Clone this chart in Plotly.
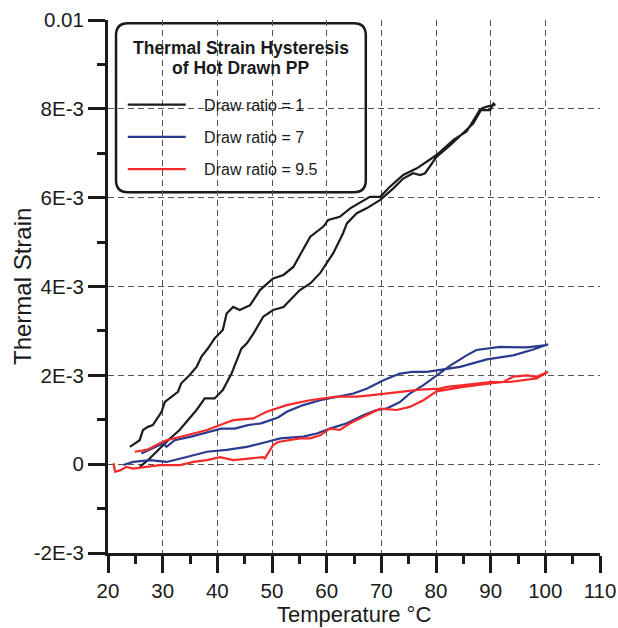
import plotly.graph_objects as go

# Draw ratio = 1 (black loop): rising branch then returning branch
dr1_T = [24.0, 25.8, 26.4, 27.3, 28.2, 29.8, 30.4, 31.6, 32.8, 33.4, 34.3, 34.9, 36.2, 37.1, 38.3, 39.5, 41.0,
         41.7, 42.9, 44.1, 46.0, 47.8, 50.2, 52.1, 53.9, 55.1, 57.0, 59.4, 60.3, 62.4, 64.3, 67.9, 69.8,
         71.6, 74.0, 76.5, 78.3, 80.1, 83.2, 85.6, 88.0, 89.9, 90.5, 90.8,
         89.3, 88.4, 86.8, 85.0, 82.6, 80.1, 78.0, 77.1, 75.8, 74.0, 72.2, 69.8, 67.3, 65.5, 63.7, 63.0,
         61.2, 58.8, 57.0, 55.1, 52.1, 50.2, 48.4, 46.6, 45.4, 44.4, 43.5, 42.6, 41.0, 39.5, 37.7, 36.2,
         34.6, 33.1, 31.0, 29.1, 27.3, 25.8]
dr1_S = [0.39, 0.54, 0.77, 0.84, 0.88, 1.18, 1.40, 1.52, 1.63, 1.82, 1.93, 2.00, 2.19, 2.42, 2.61, 2.83, 3.02,
         3.39, 3.54, 3.47, 3.58, 3.92, 4.18, 4.26, 4.44, 4.71, 5.12, 5.35, 5.50, 5.57, 5.76, 6.02, 6.02,
         6.25, 6.51, 6.66, 6.81, 6.96, 7.30, 7.49, 7.97, 7.97, 8.12, 8.09,
         8.05, 8.01, 7.67, 7.45, 7.18, 6.92, 6.55, 6.51, 6.55, 6.43, 6.21, 5.95, 5.76, 5.65, 5.42, 5.20,
         4.75, 4.30, 4.07, 3.92, 3.54, 3.47, 3.32, 2.94, 2.72, 2.60, 2.34, 2.04, 1.67, 1.48, 1.48, 1.22,
         0.99, 0.77, 0.54, 0.32, 0.09, -0.06]

# Draw ratio = 7 (blue loop)
dr7_T = [26.1, 27.9, 30.1, 30.7, 32.2, 35.2, 38.3, 40.7, 43.2, 45.6, 48.0, 51.1, 52.7, 55.7, 58.8, 61.8,
         64.9, 67.3, 70.4, 73.4, 75.8, 78.3, 80.7, 82.6, 84.4, 89.3, 94.1, 97.8, 100.5,
         100.2, 96.6, 91.7, 87.4, 85.6, 82.6, 80.1, 77.7, 75.2, 73.4, 70.9, 69.1, 66.7, 63.7, 60.6, 58.2,
         55.7, 51.5, 49.0, 45.4, 41.7, 38.1, 34.4, 30.7, 27.7, 24.6, 22.8]
dr7_S = [0.24, 0.35, 0.47, 0.39, 0.54, 0.62, 0.73, 0.80, 0.80, 0.88, 0.92, 1.05, 1.18, 1.33, 1.44, 1.52,
         1.59, 1.70, 1.89, 2.04, 2.08, 2.08, 2.12, 2.16, 2.19, 2.36, 2.45, 2.58, 2.70,
         2.68, 2.63, 2.64, 2.57, 2.45, 2.22, 2.00, 1.78, 1.59, 1.40, 1.25, 1.22, 1.10, 0.92, 0.80, 0.69,
         0.62, 0.58, 0.50, 0.39, 0.32, 0.28, 0.16, 0.05, 0.09, 0.05, -0.02]

# Draw ratio = 9.5 (red loop)
dr95_T = [24.9, 27.1, 29.5, 30.7, 34.4, 38.1, 40.5, 42.9, 46.6, 49.0, 52.7, 56.9, 61.8, 65.5, 67.9,
          70.9, 74.0, 77.1, 80.7, 82.0, 85.0, 89.9, 93.5, 96.0, 98.4, 100.5,
          98.4, 96.6, 94.1, 92.3, 89.9, 85.0, 81.3, 80.1, 77.7, 75.2, 72.8, 69.8, 67.3, 64.3, 62.4, 60.6,
          58.8, 57.0, 55.1, 53.3, 51.1, 50.2, 48.7, 48.4, 46.0, 42.9, 40.5, 38.1, 35.6, 33.2, 29.5, 26.5,
          24.6, 23.4, 22.2, 21.3, 21.0]
dr95_S = [0.28, 0.32, 0.47, 0.54, 0.65, 0.77, 0.88, 0.99, 1.03, 1.18, 1.33, 1.44, 1.52, 1.52, 1.55,
          1.59, 1.63, 1.68, 1.70, 1.74, 1.78, 1.85, 1.85, 1.89, 1.93, 2.08,
          1.97, 2.00, 1.97, 1.85, 1.82, 1.74, 1.67, 1.64, 1.44, 1.29, 1.22, 1.25, 1.10, 0.92, 0.77, 0.80,
          0.65, 0.58, 0.58, 0.54, 0.50, 0.43, 0.13, 0.16, 0.13, 0.09, 0.16, 0.09, 0.05, -0.02, -0.02, -0.06,
          -0.10, -0.06, -0.14, -0.17, 0.02]

series_names = ["Draw ratio = 1", "Draw ratio = 7", "Draw ratio = 9.5"]
series_colors = ["#1c1c1c", "#2a3a8c", "#f52a2a"]

x_ticks = [20, 30, 40, 50, 60, 70, 80, 90, 100, 110]
y_tickvals = [-0.002, 0, 0.002, 0.004, 0.006, 0.008, 0.01]
y_ticktext = ["-2E-3", "0", "2E-3", "4E-3", "6E-3", "8E-3", "0.01"]

FONT = "Liberation Sans, Arial, Helvetica, sans-serif"
INK = "#1a1a1a"
NB = "\u00a0"

fig = go.Figure()
data = [(dr1_T, dr1_S), (dr7_T, dr7_S), (dr95_T, dr95_S)]
for i, ((t, s), name, col) in enumerate(zip(data, series_names, series_colors)):
    fig.add_trace(go.Scatter(
        x=t, y=[v * 1e-3 for v in s], mode="lines", name=NB * 3 + name,
        line=dict(color=col, width=2.2), legendgroup=f"g{i}",
    ))

# rounded legend frame (paper coords)
x0, x1, y0, y1 = 0.0163, 0.524, 0.677, 0.994
rx, ry = 12 / 492, 12 / 533
path = (f"M {x0+rx},{y1} L {x1-rx},{y1} Q {x1},{y1} {x1},{y1-ry} L {x1},{y0+ry} "
        f"Q {x1},{y0} {x1-rx},{y0} L {x0+rx},{y0} Q {x0},{y0} {x0},{y0+ry} "
        f"L {x0},{y1-ry} Q {x0},{y1} {x0+rx},{y1} Z")
fig.add_shape(type="path", path=path, xref="paper", yref="paper",
              line=dict(color=INK, width=2.5), fillcolor="white", layer="between")

for txt, yp in [("<b>Thermal Strain Hysteresis</b>", 0.9475), ("<b>of Hot Drawn PP</b>", 0.910)]:
    fig.add_annotation(text=txt, xref="paper", yref="paper", x=(x0 + x1) / 2, y=yp,
                       xanchor="center", yanchor="middle", showarrow=False,
                       font=dict(family=FONT, size=17.5, color=INK))

# axis titles
fig.add_annotation(text="Thermal Strain", xref="paper", yref="paper", x=(22.5 - 108) / 492, y=0.5,
                   xanchor="center", yanchor="middle", textangle=-90, showarrow=False,
                   font=dict(family=FONT, size=24, color=INK))
fig.add_annotation(text="Temperature °C", xref="paper", yref="paper", x=0.5, y=(553 - 628) / 533,
                   xanchor="center", yanchor="bottom", showarrow=False, borderpad=0,
                   font=dict(family=FONT, size=22, color=INK))

axis_common = dict(
    showline=True, linecolor=INK, linewidth=3, mirror=False, automargin=False,
    ticks="outside", ticklen=17, tickwidth=3, tickcolor=INK,
    showgrid=True, gridcolor="#555555", gridwidth=1, griddash="6px,4px",
    zeroline=False, tickfont=dict(family=FONT, size=20.5, color=INK),
)

fig.update_xaxes(range=[20, 110], tickvals=x_ticks, ticklabelstandoff=0, **axis_common,
                 minor=dict(dtick=5, tick0=20, ticks="outside", ticklen=8, tickwidth=2.5,
                            tickcolor=INK, showgrid=False))
fig.update_yaxes(range=[-0.002, 0.01], tickvals=y_tickvals, ticktext=y_ticktext, **axis_common,
                 minor=dict(dtick=0.001, tick0=0, ticks="outside", ticklen=8, tickwidth=2.5,
                            tickcolor=INK, showgrid=False))

fig.update_layout(
    width=618, height=628,
    margin=dict(l=108, r=18, t=20, b=75),
    paper_bgcolor="white", plot_bgcolor="white",
    showlegend=True,
    legend=dict(x=0.03, y=0.873, xanchor="left", yanchor="top", bgcolor="rgba(0,0,0,0)",
                borderwidth=0, font=dict(family=FONT, size=16, color=INK),
                traceorder="grouped", tracegroupgap=8.5, itemwidth=58),
)

fig.write_html("out.html")
